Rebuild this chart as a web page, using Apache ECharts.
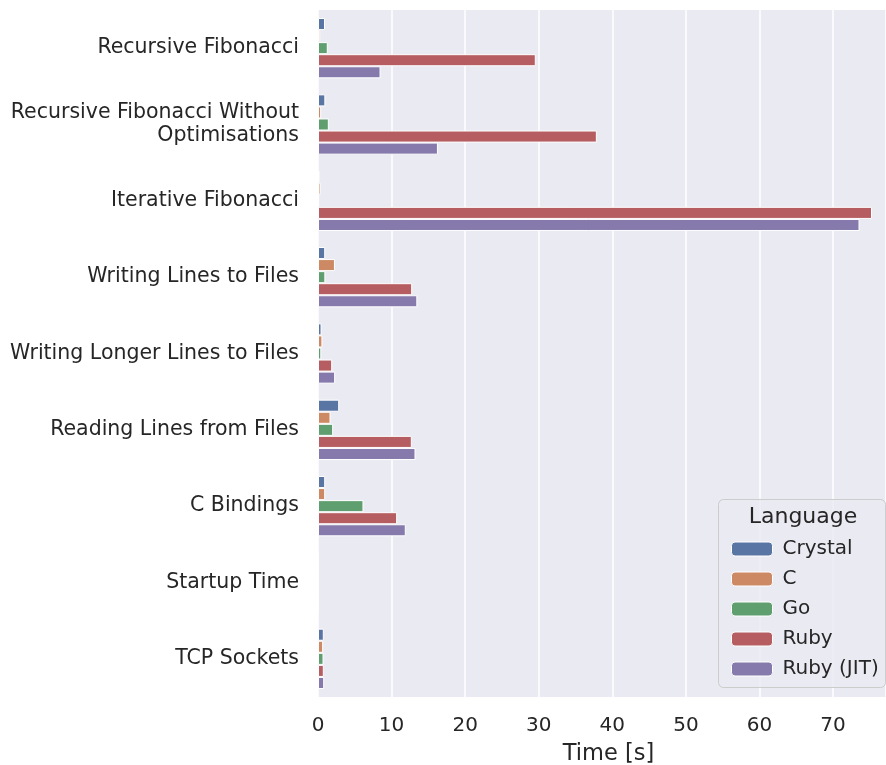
<!DOCTYPE html>
<html>
<head>
<meta charset="utf-8">
<script src="https://cdn.jsdelivr.net/npm/echarts@6/dist/echarts.min.js"></script>
<style>html,body{margin:0;padding:0;background:#fff;}#c{width:886px;height:765px;}</style>
</head>
<body>
<div id="c"></div>
<script>
const categories = ["Recursive Fibonacci", "Recursive Fibonacci Without\nOptimisations", "Iterative Fibonacci", "Writing Lines to Files", "Writing Longer Lines to Files", "Reading Lines from Files", "C Bindings", "Startup Time", "TCP Sockets"];
const languages = ["Crystal", "C", "Go", "Ruby", "Ruby (JIT)"];
const crystal = [0.95, 1.0, 0.2, 0.98, 0.48, 2.88, 0.98, 0.005, 0.79];
const cLang = [0.3, 0.43, 0.34, 2.3, 0.6, 1.7, 0.98, 0.005, 0.7];
const go = [1.33, 1.47, 0.15, 1.0, 0.45, 2.06, 6.18, 0.005, 0.75];
const ruby = [29.6, 37.9, 75.3, 12.8, 1.93, 12.75, 10.76, 0.005, 0.79];
const rubyJit = [8.5, 16.3, 73.6, 13.5, 2.33, 13.25, 11.93, 0.005, 0.84];
const xTicks = [0, 10, 20, 30, 40, 50, 60, 70];
const colors = ["#5975A4", "#CC8963", "#5F9E6E", "#B55D60", "#857AAB"];

const seriesData = [crystal, cLang, go, ruby, rubyJit];
const font = "DejaVu Sans";
const chart = echarts.init(document.getElementById('c'));
chart.setOption({
  animation: false,
  color: colors,
  grid: { left: 318, right: 0, top: 10, bottom: 68, show: true, backgroundColor: '#EAEAF2', borderWidth: 0,
    containLabel: false, outerBoundsMode: 'none' },
  xAxis: {
    type: 'value', min: 0, max: 77.2, interval: 10,
    axisLine: { show: false }, axisTick: { show: false },
    splitLine: { show: true, lineStyle: { color: '#fff', width: 1.5 } },
    axisLabel: { color: '#262626', fontSize: 20, fontFamily: font, margin: 19, showMaxLabel: false,
      formatter: v => xTicks.includes(v) ? String(v) : '' },
    name: 'Time [s]', nameLocation: 'middle', nameGap: 46,
    nameTextStyle: { color: '#262626', fontSize: 22.5, fontFamily: font, padding: [0, 0, 0, 13] }
  },
  yAxis: {
    type: 'category', data: categories, inverse: true,
    axisLine: { show: false }, axisTick: { show: false }, splitLine: { show: false },
    axisLabel: { color: '#262626', fontSize: 20.5, fontFamily: font, margin: 19, lineHeight: 23, align: 'right', padding: [5, 0, 0, 0] }
  },
  legend: {
    orient: 'vertical', left: 726, top: 534, itemWidth: 41, itemHeight: 14, itemGap: 10,
    data: languages, z: 20,
    textStyle: { color: '#262626', fontSize: 20, fontFamily: font, padding: [0, 0, 0, 5] },
    itemStyle: { borderColor: '#fff', borderWidth: 1 }
  },
  graphic: [
    { type: 'rect', left: 718, top: 499, z: 10, shape: { width: 167, height: 188, r: 5 },
      style: { fill: 'rgba(234,234,242,0.8)', stroke: '#cccccc', lineWidth: 1 } },
    { type: 'text', z: 11, x: 803, y: 517, style: { text: 'Language', fill: '#262626', font: '22px "DejaVu Sans"', textAlign: 'center', textVerticalAlign: 'middle' } }
  ],
  series: languages.map((name, i) => ({
    name, type: 'bar', data: seriesData[i],
    barGap: '0%', barCategoryGap: '21%',
    itemStyle: { borderColor: '#fff', borderWidth: 1 }
  }))
});
</script>
</body>
</html>
